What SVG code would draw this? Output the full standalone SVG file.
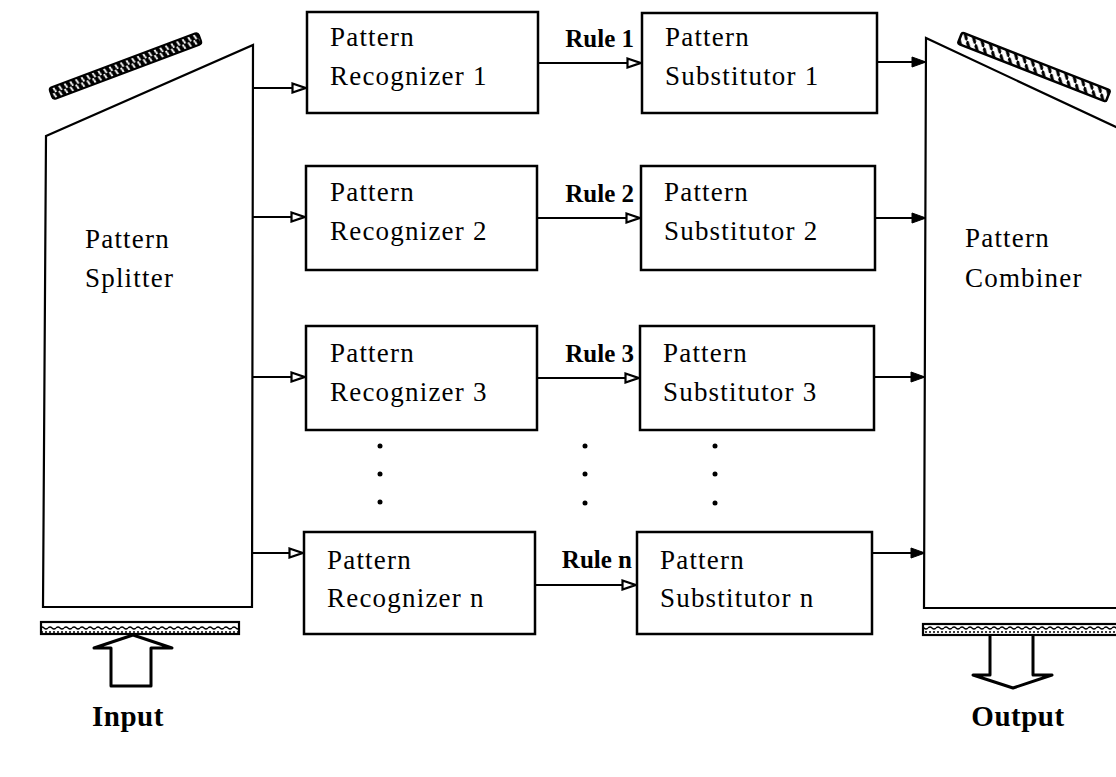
<svg xmlns="http://www.w3.org/2000/svg" width="1116" height="777" viewBox="0 0 1116 777">
<style>
.box{fill:#fff;stroke:#000;stroke-width:2.5}
.ln{fill:none;stroke:#000;stroke-width:2}
.big{fill:none;stroke:#000;stroke-width:2.2}
.t{font-family:"Liberation Serif","Times New Roman",serif;font-size:27px;letter-spacing:1.2px;fill:#000}
.r{font-family:"Liberation Serif","Times New Roman",serif;font-size:25px;font-weight:bold;fill:#000;text-anchor:end}
.io{font-family:"Liberation Serif","Times New Roman",serif;font-size:29px;font-weight:bold;fill:#000;text-anchor:middle;letter-spacing:0.5px}
.dot{fill:#000}
</style>
<defs>
<marker id="open" viewBox="0 0 16 12" markerWidth="16" markerHeight="12" refX="15" refY="6" orient="auto" markerUnits="userSpaceOnUse">
<path d="M1.5,1.5 L14.5,6 L1.5,10.5 Z" fill="#fff" stroke="#000" stroke-width="2.2"/>
</marker>
<marker id="solid" viewBox="0 0 16 12" markerWidth="16" markerHeight="12" refX="15" refY="6" orient="auto" markerUnits="userSpaceOnUse">
<path d="M1,1 L15,6 L1,11 Z" fill="#000" stroke="#000" stroke-width="1"/>
</marker>
<pattern id="hatch" width="6" height="12" patternUnits="userSpaceOnUse">
<rect width="6" height="12" fill="#000"/>
<path d="M1,0 L4,12" stroke="#fff" stroke-width="1.8"/>
</pattern>
<pattern id="hatch2" width="9" height="12" patternUnits="userSpaceOnUse">
<rect width="9" height="12" fill="#fff"/>
<path d="M0,0 L9,12" stroke="#000" stroke-width="3"/>
</pattern>
<pattern id="stip" width="8" height="12" patternUnits="userSpaceOnUse">
<rect width="8" height="12" fill="#fff"/>
<path d="M0,4 Q2,2 4,4 T8,4 M1,8 L3,8 M5,8 L7,8" stroke="#000" stroke-width="1.3" fill="none"/>
</pattern>
</defs>

<g id="splitter">
<path class="big" d="M46,136 L253,45 L252,607 L43,607 Z" fill="#fff"/>
<g transform="translate(125.5,66) rotate(-20.6)"><rect x="-79.5" y="-6" width="159" height="12" fill="url(#hatch)" stroke="#000" stroke-width="2" rx="3"/></g>
<rect x="41" y="622" width="198" height="12" fill="url(#stip)" stroke="#000" stroke-width="2.2"/>
<text class="t" x="85" y="248">Pattern</text>
<text class="t" x="85" y="287">Splitter</text>
</g>

<g id="input">
<path d="M133,635 L172,648 L151,648 L151,686 L111,686 L111,648 L94,648 Z" fill="#fff" stroke="#000" stroke-width="3" stroke-linejoin="round"/>
<text class="io" x="128" y="726">Input</text>
</g>

<g id="combiner">
<path class="big" d="M1118,128 L926,38 L924,608 L1118,608"/>
<g transform="translate(1034,67) rotate(21.4)"><rect x="-79.5" y="-6" width="159" height="12" fill="url(#hatch2)" stroke="#000" stroke-width="2.5" rx="2"/></g>
<rect x="923" y="624" width="200" height="11" fill="url(#stip)" stroke="#000" stroke-width="2.2"/>
<text class="t" x="965" y="247">Pattern</text>
<text class="t" x="965" y="287">Combiner</text>
</g>

<g id="output">
<path d="M990,636 L990,675 L973,675 L1013,688 L1052,675 L1033,675 L1033,636" fill="#fff" stroke="#000" stroke-width="3" stroke-linejoin="round"/>
<text class="io" x="1018" y="726">Output</text>
</g>

<g id="rec1"><rect class="box" x="307" y="12" width="231" height="101"/><text class="t" x="330" y="46">Pattern</text><text class="t" x="330" y="85">Recognizer 1</text></g>
<g id="rec2"><rect class="box" x="306" y="166" width="231" height="104"/><text class="t" x="330" y="201">Pattern</text><text class="t" x="330" y="240">Recognizer 2</text></g>
<g id="rec3"><rect class="box" x="306" y="326" width="231" height="104"/><text class="t" x="330" y="362">Pattern</text><text class="t" x="330" y="401">Recognizer 3</text></g>
<g id="recn"><rect class="box" x="304" y="532" width="231" height="102"/><text class="t" x="327" y="569">Pattern</text><text class="t" x="327" y="607">Recognizer n</text></g>

<g id="sub1"><rect class="box" x="642" y="13" width="235" height="100"/><text class="t" x="665" y="46">Pattern</text><text class="t" x="665" y="85">Substitutor 1</text></g>
<g id="sub2"><rect class="box" x="641" y="166" width="234" height="104"/><text class="t" x="664" y="201">Pattern</text><text class="t" x="664" y="240">Substitutor 2</text></g>
<g id="sub3"><rect class="box" x="640" y="326" width="234" height="104"/><text class="t" x="663" y="362">Pattern</text><text class="t" x="663" y="401">Substitutor 3</text></g>
<g id="subn"><rect class="box" x="637" y="532" width="235" height="102"/><text class="t" x="660" y="569">Pattern</text><text class="t" x="660" y="607">Substitutor n</text></g>

<g id="connectors">
<line class="ln" x1="253" y1="88" x2="306" y2="88" marker-end="url(#open)"/>
<line class="ln" x1="253" y1="217" x2="305" y2="217" marker-end="url(#open)"/>
<line class="ln" x1="253" y1="377" x2="305" y2="377" marker-end="url(#open)"/>
<line class="ln" x1="252" y1="553" x2="303" y2="553" marker-end="url(#open)"/>

<line class="ln" x1="538" y1="63" x2="641" y2="63" marker-end="url(#open)"/>
<line class="ln" x1="537" y1="218" x2="640" y2="218" marker-end="url(#open)"/>
<line class="ln" x1="537" y1="378" x2="639" y2="378" marker-end="url(#open)"/>
<line class="ln" x1="535" y1="585" x2="636" y2="585" marker-end="url(#open)"/>

<line class="ln" x1="877" y1="62" x2="926" y2="62" marker-end="url(#solid)"/>
<line class="ln" x1="875" y1="218" x2="926" y2="218" marker-end="url(#solid)"/>
<line class="ln" x1="874" y1="377" x2="925" y2="377" marker-end="url(#solid)"/>
<line class="ln" x1="872" y1="553" x2="925" y2="553" marker-end="url(#solid)"/>

<text class="r" x="634" y="47">Rule 1</text>
<text class="r" x="634" y="202">Rule 2</text>
<text class="r" x="634" y="362">Rule 3</text>
<text class="r" x="632" y="568">Rule n</text>

<circle class="dot" cx="380" cy="446" r="2.5"/><circle class="dot" cx="380" cy="474" r="2.5"/><circle class="dot" cx="380" cy="502" r="2.5"/>
<circle class="dot" cx="585" cy="446" r="2.5"/><circle class="dot" cx="585" cy="474" r="2.5"/><circle class="dot" cx="585" cy="503" r="2.5"/>
<circle class="dot" cx="715" cy="446" r="2.5"/><circle class="dot" cx="715" cy="474" r="2.5"/><circle class="dot" cx="715" cy="503" r="2.5"/>
</g>
</svg>
